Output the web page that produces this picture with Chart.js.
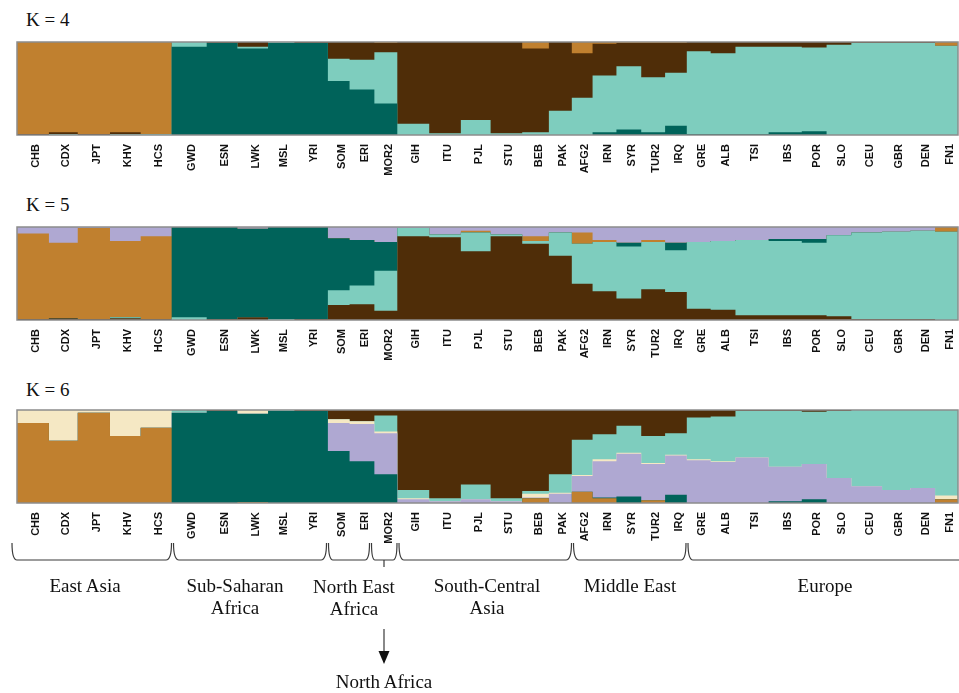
<!DOCTYPE html>
<html>
<head>
<meta charset="utf-8">
<script src="https://cdn.jsdelivr.net/npm/chart.js@4.4.1/dist/chart.umd.min.js"></script>
<style>
  body { margin: 0; background: #fff; width: 959px; height: 693px; overflow: hidden; position: relative;
         font-family: "Liberation Serif", "Times New Roman", serif; color: #111; }
  canvas { position: absolute; left: 0; }
  .k { position: absolute; left: 26px; font-size: 19px; line-height: 19px; }
  .region { position: absolute; font-size: 19px; line-height: 22px; text-align: center;
            transform: translateX(-50%); white-space: nowrap; }
  svg { position: absolute; left: 0; top: 0; }
</style>
</head>
<body>
<div class="k" style="top:10px">K = 4</div>
<div class="k" style="top:195px">K = 5</div>
<div class="k" style="top:380px">K = 6</div>

<canvas id="k4" width="959" height="180" style="top:0px"></canvas>
<canvas id="k5" width="959" height="180" style="top:185px"></canvas>
<canvas id="k6" width="959" height="180" style="top:368px"></canvas>

<svg width="959" height="693">
  <g fill="none" stroke="#3a3a3a" stroke-width="1.2">
    <path d="M12 543 Q12 560 17 560 L166 560 Q171.5 560 171.5 543"/>
    <path d="M173.5 543 Q173.5 560 179 560 L321 560 Q326.5 560 326.5 543"/>
    <path d="M328.5 543 Q328.5 560 333 560 L365 560 Q369.5 560 369.5 543"/>
    <path d="M371.5 543 Q371.5 560 375 560 L393 560 Q397 560 397 543"/>
    <path d="M399 543 Q399 560 404 560 L566 560 Q571.5 560 571.5 543"/>
    <path d="M573.5 543 Q573.5 560 579 560 L681 560 Q686 560 686 543"/>
    <path d="M688 543 Q688 560 693 560 L1000 560"/>
    <path d="M384 560 L384 567"/>
    <path d="M384 629 L384 654"/>
  </g>
  <polygon points="378.5,651 389.5,651 384,664" fill="#111"/>
</svg>

<div class="region" style="left:85px;top:575px">East Asia</div>
<div class="region" style="left:235px;top:575px">Sub-Saharan<br>Africa</div>
<div class="region" style="left:354px;top:576px">North East<br>Africa</div>
<div class="region" style="left:487px;top:575px">South-Central<br>Asia</div>
<div class="region" style="left:630px;top:575px">Middle East</div>
<div class="region" style="left:825px;top:575px">Europe</div>
<div class="region" style="left:384px;top:671px">North Africa</div>

<script>
const populations = ['CHB', 'CDX', 'JPT', 'KHV', 'HCS', 'GWD', 'ESN', 'LWK', 'MSL', 'YRI',
  'SOM', 'ERI', 'MOR2', 'GIH', 'ITU', 'PJL', 'STU', 'BEB', 'PAK', 'AFG2', 'IRN', 'SYR',
  'TUR2', 'IRQ', 'GRE', 'ALB', 'TSI', 'IBS', 'POR', 'SLO', 'CEU', 'GBR', 'DEN', 'FN1'];
const sampleSizes = [103, 93, 104, 99, 100, 113, 99, 99, 85, 108,
  70, 80, 74, 103, 102, 96, 102, 86, 74, 67, 77, 80,
  77, 70, 77, 80, 107, 107, 80, 80, 99, 91, 80, 74];

// ancestry proportions, one value per population (same order as above)
// K = 4, bottom to top
const k4DarkTeal  = [0, 0, 0, 0, 0, 0.95, 0.99, 0.93, 0.99, 0.99, 0.58, 0.49, 0.34, 0, 0, 0, 0, 0, 0, 0, 0.03, 0.06, 0.03, 0.10, 0.01, 0.01, 0.01, 0.03, 0.04, 0, 0, 0, 0, 0];
const k4LightTeal = [0, 0.01, 0, 0.01, 0.01, 0.05, 0, 0.02, 0.01, 0, 0.24, 0.32, 0.55, 0.12, 0.02, 0.16, 0.02, 0.03, 0.26, 0.40, 0.61, 0.68, 0.59, 0.57, 0.89, 0.87, 0.94, 0.92, 0.90, 0.97, 0.99, 0.99, 0.99, 0.96];
const k4Brown     = [0.01, 0.02, 0.01, 0.02, 0, 0, 0.01, 0.05, 0, 0.01, 0.18, 0.19, 0.10, 0.88, 0.98, 0.84, 0.98, 0.90, 0.74, 0.48, 0.34, 0.25, 0.37, 0.32, 0.10, 0.12, 0.05, 0.05, 0.06, 0.03, 0.01, 0.01, 0.01, 0];
const k4Orange    = [0.99, 0.97, 0.99, 0.97, 0.99, 0, 0, 0, 0, 0, 0, 0, 0.01, 0, 0, 0, 0, 0.07, 0, 0.12, 0.02, 0.01, 0.01, 0.01, 0, 0, 0, 0, 0, 0, 0, 0, 0, 0.04];

// K = 5, bottom to top
const k5Brown     = [0.01, 0.02, 0.01, 0.02, 0.01, 0, 0.01, 0.03, 0, 0.01, 0.16, 0.17, 0.10, 0.90, 0.89, 0.74, 0.90, 0.82, 0.69, 0.39, 0.31, 0.23, 0.33, 0.30, 0.12, 0.11, 0.05, 0.05, 0.05, 0.04, 0.01, 0.01, 0.01, 0];
const k5LightTeal = [0, 0, 0, 0.01, 0, 0.03, 0, 0, 0.01, 0, 0.16, 0.20, 0.43, 0.09, 0.03, 0.20, 0.02, 0.03, 0.25, 0.43, 0.53, 0.56, 0.51, 0.45, 0.72, 0.74, 0.81, 0.80, 0.78, 0.87, 0.93, 0.94, 0.95, 0.95];
const k5DarkTeal  = [0, 0, 0, 0, 0, 0.97, 0.99, 0.95, 0.99, 0.99, 0.56, 0.49, 0.31, 0, 0, 0, 0, 0, 0, 0, 0, 0.04, 0, 0.08, 0, 0, 0, 0.02, 0.04, 0, 0, 0, 0, 0];
const k5Orange    = [0.92, 0.81, 0.98, 0.82, 0.89, 0, 0, 0, 0, 0, 0, 0, 0, 0, 0, 0.02, 0, 0.05, 0, 0.12, 0.02, 0, 0.02, 0, 0, 0, 0, 0, 0, 0, 0, 0, 0, 0.05];
const k5Purple    = [0.07, 0.17, 0.01, 0.15, 0.10, 0, 0, 0.02, 0, 0, 0.12, 0.14, 0.16, 0.01, 0.08, 0.04, 0.08, 0.10, 0.06, 0.06, 0.14, 0.17, 0.14, 0.17, 0.16, 0.15, 0.14, 0.13, 0.13, 0.09, 0.06, 0.05, 0.04, 0];

// K = 6, bottom to top
const k6Orange    = [0.86, 0.67, 0.97, 0.72, 0.81, 0, 0, 0.01, 0, 0, 0, 0, 0, 0, 0, 0, 0, 0.05, 0, 0.12, 0.05, 0, 0.03, 0, 0, 0, 0, 0, 0, 0, 0, 0, 0, 0.04];
const k6DarkTeal  = [0, 0, 0, 0, 0, 0.97, 0.99, 0.95, 0.99, 0.99, 0.56, 0.45, 0.31, 0, 0, 0, 0, 0, 0, 0, 0.01, 0.07, 0, 0.09, 0, 0, 0, 0.02, 0.04, 0, 0, 0, 0, 0];
const k6Purple    = [0, 0, 0, 0, 0, 0, 0, 0, 0, 0, 0.30, 0.40, 0.44, 0.04, 0.02, 0.04, 0.02, 0.01, 0.10, 0.17, 0.39, 0.46, 0.39, 0.42, 0.46, 0.44, 0.49, 0.37, 0.38, 0.27, 0.18, 0.14, 0.16, 0];
const k6Cream     = [0.14, 0.33, 0.03, 0.28, 0.19, 0, 0, 0.04, 0, 0, 0.04, 0.03, 0.02, 0.01, 0, 0, 0, 0.04, 0.01, 0.01, 0.02, 0.01, 0.01, 0.01, 0.01, 0.01, 0, 0, 0, 0, 0, 0, 0, 0.04];
const k6LightTeal = [0, 0, 0, 0, 0, 0.03, 0, 0, 0.01, 0, 0, 0, 0.17, 0.09, 0.03, 0.16, 0.03, 0.03, 0.20, 0.38, 0.27, 0.29, 0.29, 0.23, 0.45, 0.48, 0.50, 0.60, 0.56, 0.72, 0.82, 0.86, 0.84, 0.92];
const k6Brown     = [0, 0, 0, 0, 0, 0, 0.01, 0, 0, 0.01, 0.10, 0.12, 0.06, 0.86, 0.95, 0.80, 0.95, 0.87, 0.69, 0.32, 0.26, 0.17, 0.28, 0.25, 0.08, 0.07, 0.01, 0.01, 0.02, 0.01, 0, 0, 0, 0];

const ORANGE = '#c0802f', DARK_TEAL = '#00635a', BROWN = '#4f2d08',
      LIGHT_TEAL = '#7ecdbe', PURPLE = '#afa8d2', CREAM = '#f5e8c4';

const starts = [];
let total = 0;
sampleSizes.forEach(n => { starts.push(total); total += n; });

const framePlugin = {
  id: 'frame',
  afterDraw(chart) {
    const { ctx, chartArea: a } = chart;
    ctx.save();
    ctx.strokeStyle = '#8c8c8c';
    ctx.lineWidth = 1.5;
    ctx.strokeRect(a.left, a.top, a.right - a.left, a.bottom - a.top);
    ctx.restore();
  }
};

// fixed axis height, and no extra side room for the rotated end labels
function fixAxis(height) {
  return s => {
    s.height = height;
    s.paddingLeft = 0;
    s.paddingRight = 0;
  };
}

function drawPanel(id, layers) {
  const datasets = layers.map(([values, color]) => ({
    data: starts.map((s, i) => ({ x: s, y: values[i] }))
      .concat([{ x: total, y: values[values.length - 1] }]),
    backgroundColor: color,
    borderColor: 'transparent',
    borderWidth: 0,
    pointRadius: 0,
    stepped: true,
    fill: 'origin'
  }));

  new Chart(document.getElementById(id), {
    type: 'line',
    data: { datasets },
    options: {
      responsive: false,
      animation: false,
      events: [],
      layout: { padding: { left: 17, right: 1, top: 42, bottom: 0 } },
      plugins: { legend: { display: false }, tooltip: { enabled: false } },
      scales: {
        x: {
          type: 'linear', min: 0, max: total, z: 1,
          afterBuildTicks: s => { s.ticks = starts.slice(1).map(v => ({ value: v })); },
          afterFit: fixAxis(0),
          grid: { color: 'rgba(25,25,25,0.9)', lineWidth: 1, drawTicks: false },
          ticks: { display: false },
          border: { display: false }
        },
        xl: {
          type: 'linear', position: 'bottom', min: 0, max: total,
          afterBuildTicks: s => { s.ticks = starts.map((v, i) => ({ value: v + sampleSizes[i] / 2 })); },
          afterFit: fixAxis(45),
          grid: { display: false, drawTicks: false },
          border: { display: false },
          ticks: {
            autoSkip: false, minRotation: 90, maxRotation: 90, padding: 9, labelOffset: 3,
            color: '#111',
            font: { family: 'Liberation Sans', weight: 'bold', size: 11 },
            callback: (v, i) => populations[i]
          }
        },
        y: { display: false, stacked: true, min: 0, max: 1 }
      }
    },
    plugins: [framePlugin]
  });
}

drawPanel('k4', [[k4DarkTeal, DARK_TEAL], [k4LightTeal, LIGHT_TEAL], [k4Brown, BROWN], [k4Orange, ORANGE]]);
drawPanel('k5', [[k5Brown, BROWN], [k5LightTeal, LIGHT_TEAL], [k5DarkTeal, DARK_TEAL], [k5Orange, ORANGE], [k5Purple, PURPLE]]);
drawPanel('k6', [[k6Orange, ORANGE], [k6DarkTeal, DARK_TEAL], [k6Purple, PURPLE], [k6Cream, CREAM], [k6LightTeal, LIGHT_TEAL], [k6Brown, BROWN]]);
</script>
</body>
</html>
